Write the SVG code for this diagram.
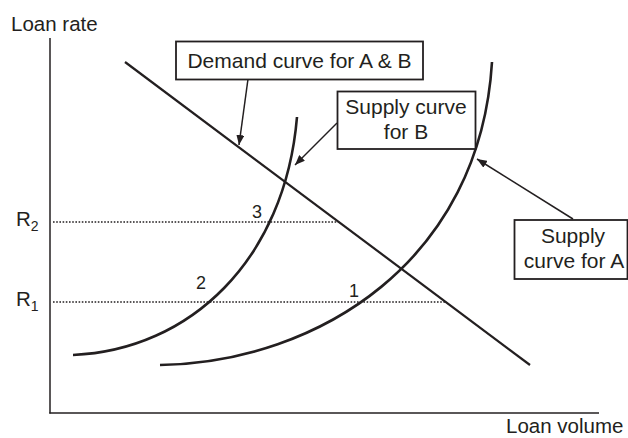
<svg xmlns="http://www.w3.org/2000/svg" width="628" height="438" viewBox="0 0 628 438">
<style>
text{font-family:"Liberation Sans",Arial,sans-serif;fill:#231f20}
.ax{font-size:20.5px}
.lb{font-size:21px;text-anchor:middle}
.num{font-size:18px}
.box{fill:#fff;stroke:#231f20;stroke-width:1.8}
.curve{fill:none;stroke:#231f20;stroke-width:2.6}
.axis{fill:none;stroke:#231f20;stroke-width:1.5}
.dot{fill:none;stroke:#231f20;stroke-width:1.4;stroke-dasharray:1.6,1.6}
.lead{fill:none;stroke:#231f20;stroke-width:1.5}
</style>
<defs>
<marker id="arr" viewBox="0 0 10 8" refX="10" refY="4" markerWidth="10" markerHeight="8" markerUnits="userSpaceOnUse" orient="auto">
<path d="M0,0 L10,4 L0,8 z" fill="#231f20"/>
</marker>
</defs>
<g id="axes">
<line class="axis" x1="50" y1="38" x2="50" y2="413.5"/>
<line class="axis" x1="49.3" y1="413" x2="599" y2="413"/>
<text class="ax" x="11" y="31">Loan rate</text>
<text class="ax" x="506" y="433">Loan volume</text>
</g>
<g id="rates">
<line class="dot" x1="53" y1="222" x2="339" y2="222"/>
<line class="dot" x1="53" y1="302" x2="446" y2="302"/>
<text class="ax" x="16" y="226">R<tspan font-size="14" dy="5">2</tspan></text>
<text class="ax" x="16" y="306">R<tspan font-size="14" dy="5">1</tspan></text>
</g>
<g id="curves">
<path id="demand" class="curve" d="M125,62 L530,365" style="stroke-width:2.2"/>
<path id="supplyB" class="curve" d="M73,355 C190,350 285,260 297,117"/>
<path id="supplyA" class="curve" d="M160,365 C320,362 480,260 492,62"/>
</g>
<g id="points">
<text class="num" x="252" y="218">3</text>
<text class="num" x="196" y="289">2</text>
<text class="num" x="349" y="297">1</text>
</g>
<g id="connectors">
<line class="lead" x1="248" y1="79" x2="239" y2="145" marker-end="url(#arr)"/>
<line class="lead" x1="337" y1="123" x2="295" y2="165" marker-end="url(#arr)"/>
<line class="lead" x1="573" y1="219" x2="477" y2="159" marker-end="url(#arr)"/>
</g>
<g id="label-demand">
<rect class="box" x="176" y="41.5" width="247" height="38"/>
<text class="lb" x="299.5" y="68">Demand curve for A &amp; B</text>
</g>
<g id="label-supplyB">
<rect class="box" x="337.5" y="91.5" width="138" height="57.5"/>
<text class="lb" x="406" y="114">Supply curve</text>
<text class="lb" x="406" y="139">for B</text>
</g>
<g id="label-supplyA">
<rect class="box" x="514.5" y="220" width="113" height="59"/>
<text class="lb" x="573" y="243">Supply</text>
<text class="lb" x="574" y="268">curve for A</text>
</g>
</svg>
